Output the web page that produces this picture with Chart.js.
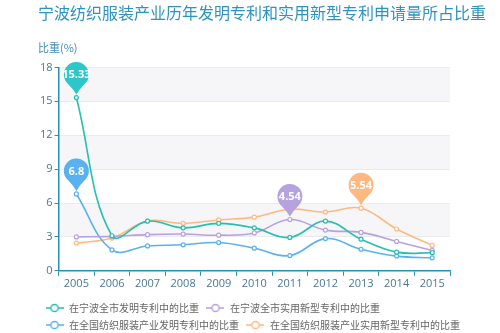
<!DOCTYPE html>
<html>
<head>
<meta charset="utf-8">
<script src="https://cdn.jsdelivr.net/npm/chart.js@4/dist/chart.umd.min.js"></script>
<style>
  html, body { margin: 0; padding: 0; background: #fff; }
  #wrap { width: 500px; height: 333px; position: relative; }
</style>
</head>
<body>
<div id="wrap"><canvas id="patentChart"></canvas></div>
<script>
// 数据
const years = ['2005', '2006', '2007', '2008', '2009', '2010', '2011', '2012', '2013', '2014', '2015'];
const ningboInvention = [15.33, 3.1, 4.4, 3.8, 4.2, 3.8, 2.95, 4.4, 2.8, 1.65, 1.6];
const ningboUtility = [3.0, 3.05, 3.2, 3.25, 3.15, 3.35, 4.54, 3.6, 3.4, 2.6, 1.8];
const nationInvention = [6.8, 1.85, 2.2, 2.3, 2.5, 2.0, 1.35, 2.85, 1.9, 1.3, 1.15];
const nationUtility = [2.45, 2.9, 4.4, 4.2, 4.5, 4.75, 5.45, 5.2, 5.54, 3.7, 2.25];
const seriesNames = [
  '在宁波全市发明专利中的比重',
  '在宁波全市实用新型专利中的比重',
  '在全国纺织服装产业发明专利中的比重',
  '在全国纺织服装产业实用新型专利中的比重'
];
const yTickValues = [0, 3, 6, 9, 12, 15, 18];
// markPoint: [series, index]
const markers = [[0, 0], [2, 0], [1, 6], [3, 8]];

const lineColors = ['#27bfae', '#b6a2de', '#5ab1ef', '#ffb980'];
const pinColors = ['#2ec7c9', '#b6a2de', '#5ab1ef', '#ffb980'];
const axisColor = '#2a8fb5';
const labelColor = '#4a7796';

// 图例小图标 —○—
function makeLegendIcon(color) {
  const c = document.createElement('canvas');
  c.width = 18; c.height = 10;
  const g = c.getContext('2d');
  g.strokeStyle = color;
  g.lineWidth = 1.5;
  g.beginPath(); g.moveTo(0, 5); g.lineTo(18, 5); g.stroke();
  g.beginPath(); g.arc(9, 5, 3.6, 0, Math.PI * 2);
  g.fillStyle = '#fff'; g.fill(); g.stroke();
  return c;
}
const legendIcons = lineColors.map(makeLegendIcon);

// 背景隔行色带
const bandPlugin = {
  id: 'bands',
  beforeDraw(chart) {
    const { ctx, chartArea } = chart;
    const y = chart.scales.y;
    ctx.save();
    ctx.fillStyle = '#f6f6f8';
    for (let i = 1; i < yTickValues.length - 1; i += 2) {
      const top = y.getPixelForValue(yTickValues[i + 1]);
      const bottom = y.getPixelForValue(yTickValues[i]);
      ctx.fillRect(chartArea.left, top, chartArea.right - chartArea.left, bottom - top);
    }
    ctx.restore();
  }
};

// 气泡标注
const pinPlugin = {
  id: 'pins',
  afterDatasetsDraw(chart) {
    const ctx = chart.ctx;
    markers.forEach(([ds, idx]) => {
      const pt = chart.getDatasetMeta(ds).data[idx];
      const value = chart.data.datasets[ds].data[idx];
      const r = 12.5;
      const cx = pt.x, cy = pt.y - 23;
      const tipY = pt.y - 3;
      const a = 0.75;
      ctx.save();
      ctx.fillStyle = pinColors[ds];
      ctx.beginPath();
      ctx.arc(cx, cy, r, Math.PI / 2 + a, Math.PI * 2.5 - a);
      ctx.quadraticCurveTo(cx + 3, cy + r + 2, cx, tipY);
      ctx.quadraticCurveTo(cx - 3, cy + r + 2, cx + r * Math.cos(Math.PI / 2 + a), cy + r * Math.sin(Math.PI / 2 + a));
      ctx.fill();
      ctx.fillStyle = '#fff';
      ctx.font = 'bold 11px "Open Sans", "Noto Sans", sans-serif';
      ctx.textAlign = 'center';
      ctx.textBaseline = 'middle';
      ctx.fillText(String(value), cx, cy + 0.5);
      ctx.restore();
    });
  }
};

const seriesData = [ningboInvention, ningboUtility, nationInvention, nationUtility];

const chart = new Chart(document.getElementById('patentChart'), {
  type: 'line',
  data: {
    labels: years,
    datasets: seriesData.map((d, i) => ({
      label: seriesNames[i],
      data: d,
      borderColor: lineColors[i],
      backgroundColor: '#fff',
      borderWidth: 1.6,
      pointRadius: 2,
      pointBorderWidth: 1.2,
      pointBackgroundColor: '#fff',
      pointBorderColor: lineColors[i],
      tension: 0.4,
      fill: false
    }))
  },
  options: {
    responsive: true,
    maintainAspectRatio: false,
    animation: false,
    layout: { padding: { left: 38, right: 8, top: 2, bottom: -7 } },
    plugins: {
      title: {
        display: true,
        text: '宁波纺织服装产业历年发明专利和实用新型专利申请量所占比重',
        align: 'start',
        color: '#2d94c0',
        font: { size: 16, family: '"Noto Sans CJK SC", sans-serif', weight: 'normal' },
        padding: { top: 1, bottom: 19 }
      },
      subtitle: {
        display: true,
        text: '比重(%)',
        align: 'start',
        color: '#3f8cb5',
        font: { size: 11, family: '"Noto Sans CJK SC", sans-serif' },
        padding: { top: 0, bottom: 13 }
      },
      legend: {
        position: 'bottom',
        align: 'start',
        labels: {
          usePointStyle: true,
          pointStyleWidth: 19,
          padding: 7,
          color: '#666',
          font: { size: 10, family: '"Noto Sans CJK SC", sans-serif' },
          generateLabels: (c) => c.data.datasets.map((ds, i) => ({
            text: ds.label,
            pointStyle: legendIcons[i],
            fillStyle: ds.borderColor,
            strokeStyle: ds.borderColor,
            lineWidth: 0,
            fontColor: '#666',
            hidden: false,
            datasetIndex: i
          }))
        }
      },
      tooltip: { enabled: false }
    },
    scales: {
      x: {
        offset: true,
        grid: {
          offset: true,
          drawOnChartArea: false,
          drawTicks: true,
          tickLength: 5,
          tickColor: axisColor
        },
        border: { color: axisColor, width: 1.5 },
        ticks: {
          color: labelColor,
          padding: 1,
          maxRotation: 0,
          font: { size: 11, family: '"Open Sans", sans-serif' }
        },
        afterFit: (axis) => { axis.height += 5; }
      },
      y: {
        min: 0,
        max: 18,
        afterBuildTicks: (axis) => { axis.ticks = yTickValues.map(v => ({ value: v })); },
        grid: {
          color: '#ebebeb',
          drawTicks: true,
          tickLength: 4,
          tickColor: axisColor
        },
        border: { color: axisColor, width: 1.5 },
        ticks: {
          color: labelColor,
          padding: 2,
          font: { size: 11, family: '"Open Sans", sans-serif' }
        }
      },
      // 右侧留白
      spacer: {
        position: 'right',
        display: true,
        grid: { display: false, drawTicks: false },
        border: { display: false },
        ticks: { display: false },
        afterFit: (axis) => { axis.width = 42; }
      }
    }
  },
  plugins: [bandPlugin, pinPlugin]
});
</script>
</body>
</html>
